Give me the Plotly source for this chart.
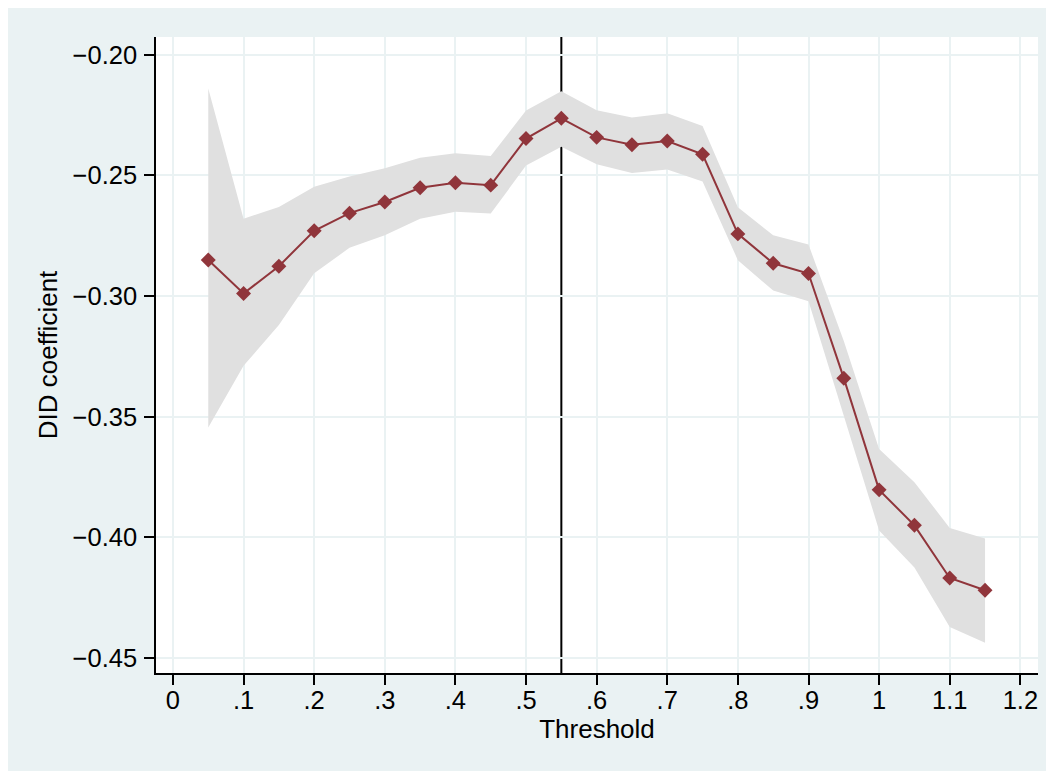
import plotly.graph_objects as go

threshold = [0.05, 0.10, 0.15, 0.20, 0.25, 0.30, 0.35, 0.40, 0.45, 0.50, 0.55, 0.60,
             0.65, 0.70, 0.75, 0.80, 0.85, 0.90, 0.95, 1.00, 1.05, 1.10, 1.15]
coef = [-0.2850, -0.2989, -0.2876, -0.2729, -0.2656, -0.2610, -0.2551, -0.2530, -0.2540,
        -0.2347, -0.2263, -0.2342, -0.2373, -0.2357, -0.2412, -0.2742, -0.2864, -0.2906,
        -0.3340, -0.3803, -0.3950, -0.4168, -0.4219]
ci_upper = [-0.2139, -0.2679, -0.2631, -0.2547, -0.2504, -0.2470, -0.2426, -0.2408, -0.2419,
            -0.2231, -0.2151, -0.2230, -0.2260, -0.2242, -0.2295, -0.2632, -0.2748, -0.2786,
            -0.3186, -0.3634, -0.3771, -0.3961, -0.4005]
ci_lower = [-0.3544, -0.3289, -0.3120, -0.2905, -0.2800, -0.2748, -0.2679, -0.2650, -0.2658,
            -0.2459, -0.2381, -0.2453, -0.2490, -0.2475, -0.2525, -0.2851, -0.2977, -0.3021,
            -0.3500, -0.3971, -0.4125, -0.4371, -0.4437]
x_tickvals = [0, 0.1, 0.2, 0.3, 0.4, 0.5, 0.6, 0.7, 0.8, 0.9, 1.0, 1.1, 1.2]
x_ticktext = ["0", ".1", ".2", ".3", ".4", ".5", ".6", ".7", ".8", ".9", "1", "1.1", "1.2"]
y_tickvals = [-0.45, -0.40, -0.35, -0.30, -0.25, -0.20]
cutoff = 0.55

bg = "#EAF2F3"
red = "#90353B"
font = "Liberation Sans, Arial, sans-serif"

fig = go.Figure()
fig.add_trace(go.Scatter(
    x=threshold + threshold[::-1],
    y=ci_upper + ci_lower[::-1],
    fill="toself", fillcolor="#E0E0E0",
    line=dict(width=0, color="#E0E0E0"),
    mode="lines", hoverinfo="skip", showlegend=False,
))
fig.add_trace(go.Scatter(
    x=threshold, y=coef, mode="lines+markers",
    line=dict(color=red, width=2),
    marker=dict(symbol="diamond", size=11.5, color=red),
    showlegend=False,
))

fig.add_shape(type="line", xref="x", yref="paper", x0=cutoff, x1=cutoff, y0=0, y1=1,
              line=dict(color="black", width=2), layer="between")

fig.update_layout(
    width=1054, height=771,
    margin=dict(l=148, r=24, t=29, b=106, autoexpand=False),
    paper_bgcolor=bg, plot_bgcolor="white",
    font=dict(family=font, size=25.5, color="black"),
    xaxis=dict(
        range=[-0.024, 1.225], tickvals=x_tickvals, ticktext=x_ticktext,
        showgrid=True, gridcolor=bg, gridwidth=1.5,
        showline=True, linecolor="black", linewidth=1.5,
        ticks="outside", ticklen=10, tickcolor="black", tickwidth=1.5,
        zeroline=False, automargin=False, ticklabelstandoff=-6,
        title=dict(text="Threshold", standoff=4, font=dict(size=26)),
    ),
    yaxis=dict(
        range=[-0.4562, -0.1926], tickvals=y_tickvals, tickformat=".2f",
        showgrid=True, gridcolor=bg, gridwidth=1.5,
        showline=True, linecolor="black", linewidth=1.5,
        ticks="outside", ticklen=10, tickcolor="black", tickwidth=1.5,
        zeroline=False, automargin=False, ticklabelstandoff=2,
        title=dict(text="DID coefficient", standoff=8, font=dict(size=26)),
    ),
)

fig.write_html("out.html")
